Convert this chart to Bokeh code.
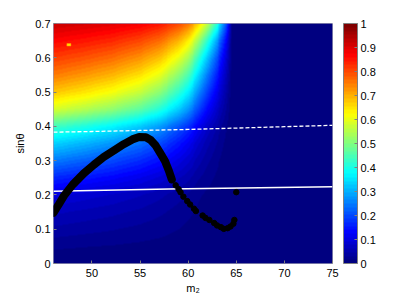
import numpy as np
from bokeh.plotting import figure
from bokeh.models import LinearColorMapper, ColorBar, FixedTicker, Range1d
from bokeh.embed import file_html
from bokeh.resources import INLINE

# ---- data ----
m2_grid = [46, 49, 52, 55, 57, 59, 60, 61, 62, 63, 64, 64.6, 75]
sin_grid = [0.0, 0.05, 0.10, 0.15, 0.20, 0.25, 0.30, 0.35, 0.40, 0.45, 0.50, 0.55, 0.60, 0.65, 0.70]
br_grid = [
    [0, 0, 0, 0, 0, 0, 0, 0, 0, 0, 0, 0, 0],
    [0.020, 0.017, 0.015, 0.012, 0.010, 0.007, 0.005, 0.004, 0.002, 0.001, 0, 0, 0],
    [0.043, 0.038, 0.033, 0.027, 0.022, 0.016, 0.012, 0.008, 0.005, 0.003, 0.001, 0, 0],
    [0.067, 0.059, 0.052, 0.043, 0.035, 0.025, 0.019, 0.013, 0.008, 0.004, 0.002, 0, 0],
    [0.099, 0.088, 0.077, 0.064, 0.052, 0.037, 0.029, 0.019, 0.012, 0.007, 0.002, 0, 0],
    [0.167, 0.150, 0.132, 0.110, 0.091, 0.065, 0.051, 0.035, 0.022, 0.012, 0.004, 0, 0],
    [0.248, 0.225, 0.200, 0.170, 0.142, 0.104, 0.082, 0.056, 0.035, 0.019, 0.007, 0, 0],
    [0.333, 0.306, 0.275, 0.237, 0.200, 0.149, 0.119, 0.083, 0.052, 0.029, 0.011, 0, 0],
    [0.438, 0.407, 0.372, 0.326, 0.281, 0.214, 0.174, 0.123, 0.079, 0.045, 0.017, 0, 0],
    [0.583, 0.552, 0.516, 0.465, 0.412, 0.329, 0.274, 0.201, 0.133, 0.077, 0.030, 0, 0],
    [0.677, 0.649, 0.615, 0.566, 0.512, 0.424, 0.362, 0.274, 0.188, 0.112, 0.044, 0, 0],
    [0.750, 0.725, 0.695, 0.650, 0.600, 0.512, 0.448, 0.351, 0.248, 0.153, 0.062, 0, 0],
    [0.811, 0.791, 0.766, 0.727, 0.683, 0.601, 0.537, 0.436, 0.321, 0.205, 0.087, 0, 0],
    [0.867, 0.851, 0.832, 0.801, 0.765, 0.695, 0.637, 0.539, 0.417, 0.281, 0.125, 0, 0],
    [0.920, 0.910, 0.897, 0.877, 0.852, 0.801, 0.756, 0.674, 0.558, 0.408, 0.202, 0, 0],
]

# thick black band
band_m2 = [46.0, 46.5, 47.1, 48.0, 49.15, 50.2, 51.2, 52.3, 53.3, 54.2, 54.9, 55.6, 56.1, 56.6, 57.1, 57.6, 58.0, 58.3]
band_sin = [0.148, 0.170, 0.198, 0.230, 0.263, 0.288, 0.310, 0.330, 0.348, 0.362, 0.369, 0.368, 0.360, 0.345, 0.322, 0.298, 0.270, 0.245]

# sparse black dots
dot_m2 = [58.7, 59.0, 59.2, 59.5, 59.9, 60.2, 60.6, 60.8, 61.5, 61.8, 62.2, 62.7, 63.0, 63.4, 63.7, 64.1, 64.4, 64.7, 64.8, 65.0]
dot_sin = [0.228, 0.217, 0.208, 0.195, 0.182, 0.172, 0.160, 0.153, 0.140, 0.133, 0.127, 0.118, 0.111, 0.106, 0.101, 0.103, 0.108, 0.116, 0.127, 0.208]

# white dashed and solid lines
dash_m2 = [46, 50, 55, 60, 65, 70, 75]
dash_sin = [0.383, 0.385, 0.388, 0.391, 0.395, 0.399, 0.403]
solid_m2 = [46, 58, 75]
solid_sin = [0.211, 0.217, 0.224]

# yellow benchmark point
pt_m2 = [47.6]
pt_sin = [0.638]

x_ticks = [50, 55, 60, 65, 70, 75]
y_ticks = [0, 0.1, 0.2, 0.3, 0.4, 0.5, 0.6, 0.7]
cb_ticks = [0, 0.1, 0.2, 0.3, 0.4, 0.5, 0.6, 0.7, 0.8, 0.9, 1.0]

# ---- jet colormap (64 levels) ----
def jet(n):
    cols = []
    for i in range(n):
        t = i / (n - 1)
        r = min(max(1.5 - abs(4 * t - 3), 0), 1)
        g = min(max(1.5 - abs(4 * t - 2), 0), 1)
        b = min(max(1.5 - abs(4 * t - 1), 0), 1)
        cols.append("#%02x%02x%02x" % (int(round(r * 255)), int(round(g * 255)), int(round(b * 255))))
    return cols

palette = jet(64)
mapper = LinearColorMapper(palette=palette, low=0, high=1)

# interpolated shading of the grid (like shading interp)
NX, NY = 290, 240
fx = np.linspace(46, 75, NX)
fy = np.linspace(0, 0.7, NY)
G = np.array(br_grid)
tmp = np.array([np.interp(fx, m2_grid, row) for row in G])
Z = np.array([np.interp(fy, sin_grid, tmp[:, j]) for j in range(NX)]).T

FONT = "Liberation Sans"
FS = "11px"

p = figure(width=407, height=296, output_backend="svg", toolbar_location=None,
           x_range=Range1d(46, 75), y_range=Range1d(0, 0.7),
           min_border_left=53, min_border_top=23, min_border_bottom=33, min_border_right=75)
p.background_fill_color = "white"
p.border_fill_color = "white"
p.outline_line_color = "#9a9ab4"
p.grid.visible = False

p.image(image=[Z], x=46, y=0, dw=29, dh=0.7, color_mapper=mapper)

p.line(dash_m2, dash_sin, line_color="white", line_width=1.3, line_dash="4 2")
p.line(solid_m2, solid_sin, line_color="white", line_width=1.5)
p.line(band_m2, band_sin, line_color="black", line_width=8, line_cap="round", line_join="round")
p.scatter(dot_m2, dot_sin, size=5.5, color="black")
p.rect(pt_m2, pt_sin, width=4, height=2.5, width_units="screen", height_units="screen",
       fill_color="#ffe000", line_color="#ff9900", line_width=0.5)

for ax in (p.xaxis[0], p.yaxis[0]):
    ax.axis_line_color = None
    ax.major_tick_in = 3
    ax.major_tick_out = 0
    ax.minor_tick_line_color = None
    ax.major_tick_line_color = "#808080"
    ax.major_label_text_font = FONT
    ax.major_label_text_font_size = FS
    ax.major_label_text_color = "black"
    ax.axis_label_text_font = FONT
    ax.axis_label_text_font_size = FS
    ax.axis_label_text_font_style = "normal"
    ax.axis_label_text_color = "black"

p.xaxis.ticker = FixedTicker(ticks=x_ticks)
p.yaxis.ticker = FixedTicker(ticks=y_ticks)
p.yaxis.major_label_overrides = {0: "0"}
p.xaxis.axis_label = "m₂"
p.yaxis.axis_label = "sinθ"
p.xaxis.major_label_standoff = 5
p.xaxis.axis_label_standoff = 2
p.yaxis.major_label_standoff = 3
p.yaxis.axis_label_standoff = 6

cb = ColorBar(color_mapper=mapper, width=14, height=240, location=(11, 0),
              padding=0, margin=0,
              ticker=FixedTicker(ticks=cb_ticks),
              major_label_overrides={0: "0", 1: "1"},
              major_tick_in=3, major_tick_out=0, major_tick_line_color="#808080",
              bar_line_color="#808080", border_line_color=None,
              background_fill_alpha=0,
              label_standoff=3,
              major_label_text_font=FONT, major_label_text_font_size=FS,
              major_label_text_color="black")
p.add_layout(cb, "right")

open("out.html", "w").write(file_html(p, INLINE))
